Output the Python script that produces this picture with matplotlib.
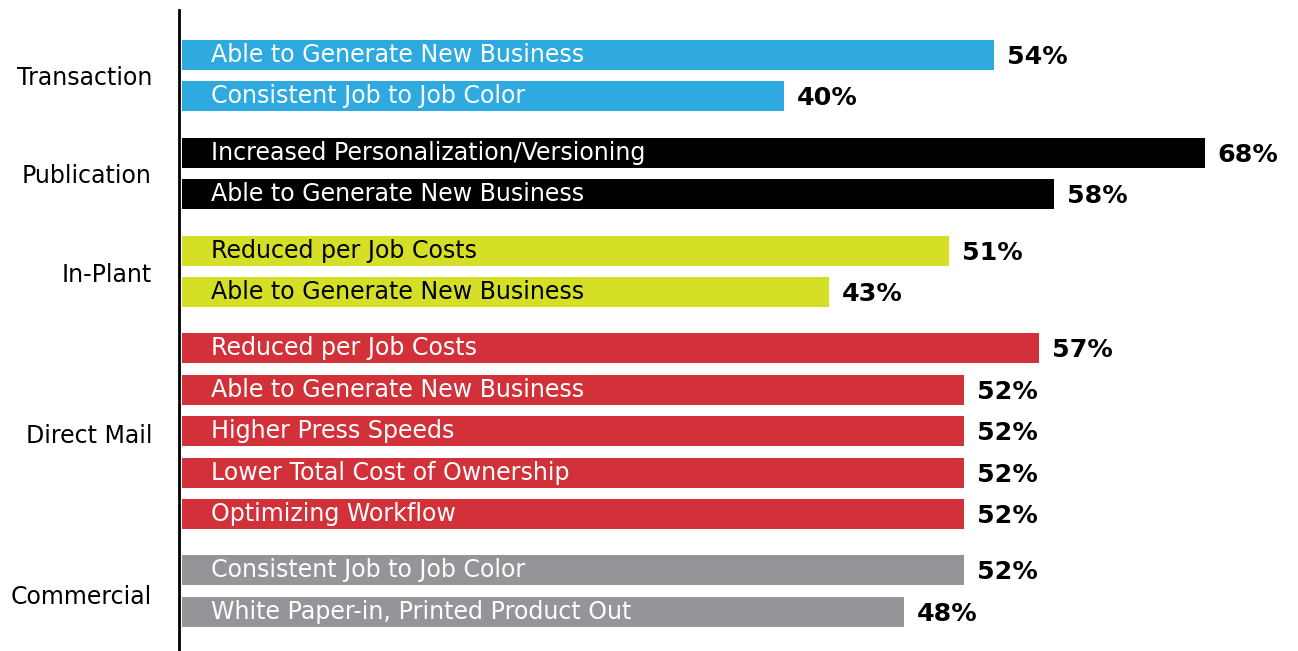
import matplotlib
matplotlib.use("Agg")
import matplotlib.pyplot as plt

groups = ["Transaction", "Publication", "In-Plant", "Direct Mail", "Commercial"]
group_colors = ["#2EAAE1", "#000000", "#D4DF26", "#D33139", "#939598"]
group_text_colors = ["white", "white", "black", "white", "white"]
bar_labels = [
    ["Able to Generate New Business", "Consistent Job to Job Color"],
    ["Increased Personalization/Versioning", "Able to Generate New Business"],
    ["Reduced per Job Costs", "Able to Generate New Business"],
    ["Reduced per Job Costs", "Able to Generate New Business", "Higher Press Speeds",
     "Lower Total Cost of Ownership", "Optimizing Workflow"],
    ["Consistent Job to Job Color", "White Paper-in, Printed Product Out"],
]
bar_values = [
    [54, 40],
    [68, 58],
    [51, 43],
    [57, 52, 52, 52, 52],
    [52, 48],
]

W, H = 1298, 651
DPI = 100
fig = plt.figure(figsize=(W / DPI, H / DPI), dpi=DPI)
x0 = 182
px_per_pct = 15.04
ax = fig.add_axes([x0 / W, 0, 1 - x0 / W, 1])
ax.set_xlim(0, (W - x0) / px_per_pct)
ax.set_ylim(H, 0)
ax.axis("off")

FONT = "DejaVu Sans"
pitch = 41.4
gap = 15
first = 55
bar_h = 30

i = 0
for g, (name, labels, vals) in enumerate(zip(groups, bar_labels, bar_values)):
    ys = []
    for lab, v in zip(labels, vals):
        y = first + i * pitch + g * gap
        ys.append(y)
        ax.barh(y, v, height=bar_h, color=group_colors[g], left=0)
        ax.text(29 / px_per_pct, y, lab, color=group_text_colors[g],
                fontsize=17.1, family=FONT, va="center", ha="left")
        ax.text(v + 13 / px_per_pct, y + 2, f"{v}%", color="black",
                fontsize=18.3, fontweight="bold", family=FONT, va="center", ha="left")
        i += 1
    yc = (ys[0] + ys[-1]) / 2
    fig.text(152 / W, 1 - (yc + 2 + g) / H, name, fontsize=17, family=FONT,
             ha="right", va="center", color="black")

fig.add_artist(plt.Line2D([179 / W, 179 / W], [1 - 10 / H, 0], color="black",
                          linewidth=2, transform=fig.transFigure))

fig.savefig("out.png", dpi=DPI)
